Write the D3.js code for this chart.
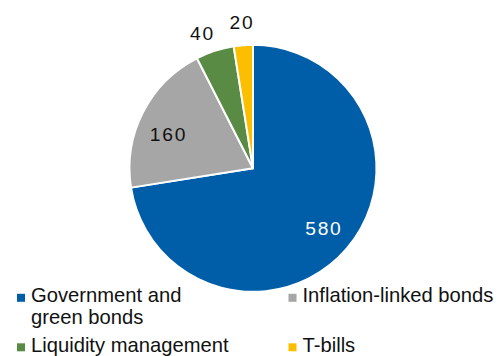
<!DOCTYPE html>
<html>
<head>
<meta charset="utf-8">
<script src="https://cdn.jsdelivr.net/npm/d3@7/dist/d3.min.js"></script>
<style>
  html, body { margin: 0; padding: 0; background: #fff; }
  svg { display: block; }
  text { font-family: "Liberation Sans", Arial, Helvetica, sans-serif; fill: #111; }
</style>
</head>
<body>
<div id="chart"></div>
<script>
// Holdings by instrument type
const categories = ["Government and green bonds", "Inflation-linked bonds", "Liquidity management", "T-bills"];
const values = [580, 160, 40, 20];
const colors = ["#005ea8", "#a6a6a6", "#5a8b45", "#fbbf00"];
// Slices that are too small carry their value outside the pie
const labelOutside = [false, false, true, true];

const W = 499, H = 356;
const cx = 253, cy = 168.3, R = 123.5;

const svg = d3.select("#chart").append("svg")
  .attr("width", W).attr("height", H);

const data = categories.map((c, i) => ({ name: c, value: values[i], color: colors[i], outside: labelOutside[i] }));

const pie = d3.pie().value(d => d.value).sort(null);
const arcs = pie(data);

const arc = d3.arc().innerRadius(0).outerRadius(R);
const inArc = d3.arc().innerRadius(R * 0.745).outerRadius(R * 0.745);
const outArc = d3.arc().innerRadius(145).outerRadius(145);

const g = svg.append("g").attr("transform", `translate(${cx},${cy})`);

g.selectAll("path.slice").data(arcs).join("path")
  .attr("class", "slice")
  .attr("d", arc)
  .attr("fill", d => d.data.color)
  .attr("stroke", "#fff")
  .attr("stroke-width", 2)
  .attr("stroke-linejoin", "round");

// small placement nudges for the value labels
const nudge = { "Inflation-linked bonds": [-3.5, 7.5], "Liquidity management": [-6.5, 2.6], "T-bills": [-0.6, -1.1] };
const spacing = 1.8;

g.selectAll("text.val").data(arcs).join("text")
  .attr("class", "val")
  .attr("transform", d => {
    const p = (d.data.outside ? outArc : inArc).centroid(d);
    const n = nudge[d.data.name] || [0, 0];
    return `translate(${p[0] + n[0] + spacing / 2},${p[1] + n[1]})`;
  })
  .attr("text-anchor", "middle")
  .attr("dy", "0.35em")
  .style("font-size", "19.2px")
  .style("letter-spacing", spacing + "px")
  .style("fill", d => d.index === 0 ? "#fff" : "#111")
  .text(d => d.data.value);

// Legend: two columns, entries wrap within the column width
const legend = svg.append("g").attr("class", "legend");
const colX = [17, 288.5];
const textGap = 14;
const maxTextW = 203;
const lineStep = 22.3;
const firstBaseline = 302;
const fontSize = 20.2;

function wrapWords(str, sel) {
  const words = str.split(" ");
  const lines = [];
  let cur = "";
  const probe = sel.append("text").style("font-size", fontSize + "px");
  words.forEach(w => {
    const test = cur ? cur + " " + w : w;
    probe.text(test);
    if (probe.node().getComputedTextLength() > maxTextW && cur) {
      lines.push(cur);
      cur = w;
    } else {
      cur = test;
    }
  });
  if (cur) lines.push(cur);
  probe.remove();
  return lines;
}

const entries = data.map(d => ({ ...d, lines: wrapWords(d.name, legend) }));
let baseline = firstBaseline;
for (let r = 0; r < entries.length; r += 2) {
  const row = entries.slice(r, r + 2);
  row.forEach((e, j) => {
    const x = colX[j];
    legend.append("rect")
      .attr("x", x).attr("y", baseline - 8.2)
      .attr("width", 8).attr("height", 8)
      .attr("fill", e.color);
    const t = legend.append("text")
      .attr("x", x + textGap).attr("y", baseline)
      .style("font-size", fontSize + "px");
    e.lines.forEach((ln, k) => {
      t.append("tspan").attr("x", x + textGap).attr("y", baseline + k * lineStep).text(ln);
    });
  });
  const maxLines = d3.max(row, e => e.lines.length);
  baseline += maxLines * 24.75;
}
</script>
</body>
</html>
